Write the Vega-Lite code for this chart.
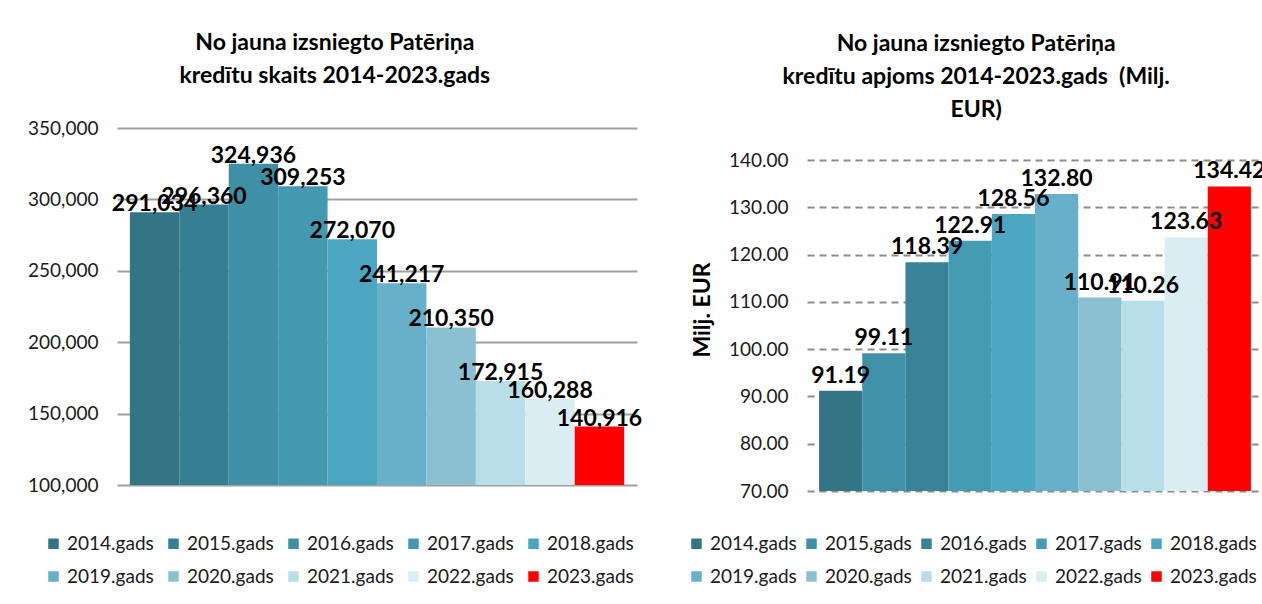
{
  "$schema": "https://vega.github.io/schema/vega-lite/v6.json",
  "padding": {"left": 27, "top": 32, "right": 0, "bottom": 0},
  "spacing": 44,
  "background": "white",
  "config": {
    "font": "Lato",
    "view": {"stroke": null},
    "legend": {"padding": 0}
  },
  "datasets": {
    "kredits": [
      {"gads": "2014.gads", "skaits": 291034, "apjoms": 91.19},
      {"gads": "2015.gads", "skaits": 296360, "apjoms": 99.11},
      {"gads": "2016.gads", "skaits": 324936, "apjoms": 118.39},
      {"gads": "2017.gads", "skaits": 309253, "apjoms": 122.91},
      {"gads": "2018.gads", "skaits": 272070, "apjoms": 128.56},
      {"gads": "2019.gads", "skaits": 241217, "apjoms": 132.80},
      {"gads": "2020.gads", "skaits": 210350, "apjoms": 110.91},
      {"gads": "2021.gads", "skaits": 172915, "apjoms": 110.26},
      {"gads": "2022.gads", "skaits": 160288, "apjoms": 123.63},
      {"gads": "2023.gads", "skaits": 140916, "apjoms": 134.42}
    ]
  },
  "resolve": {"scale": {"color": "independent"}},
  "hconcat": [
    {
      "width": 520,
      "height": 357,
      "data": {"name": "kredits"},
      "title": {
        "text": ["No jauna izsniegto Patēriņa", "kredītu skaits 2014-2023.gads"],
        "fontSize": 23, "fontWeight": "bold", "lineHeight": 33, "offset": 31,
        "anchor": "middle", "frame": "bounds", "color": "#000000"
      },
      "encoding": {
        "x": {"field": "gads", "type": "nominal", "axis": null,
              "scale": {"paddingInner": 0, "paddingOuter": 0.26}},
        "y": {"field": "skaits", "type": "quantitative",
              "scale": {"domain": [100000, 350000], "zero": false, "nice": false},
              "axis": {"title": null, "values": [100000, 150000, 200000, 250000, 300000, 350000],
                       "format": ",.0f", "grid": true, "gridColor": "#a0a0a0", "gridWidth": 2,
                       "domain": false, "ticks": false, "tickSize": 0, "labelPadding": 19,
                       "labelFontSize": 19, "labelColor": "#1a1a1a"}}
      },
      "layer": [
        {
          "mark": {"type": "bar"},
          "encoding": {
            "y2": {"datum": 100000},
            "color": {"field": "gads", "type": "nominal",
                      "scale": {"range": ["#337585", "#367f92", "#3f8fa6", "#4499b1", "#4aa6c1", "#66b0c9", "#8ac0d1", "#b8dee8", "#daedf3", "#ff0000"]},
                      "legend": {"title": null, "orient": "none", "legendX": -73, "legendY": 406,
                                 "direction": "horizontal", "columns": 5, "columnPadding": 10, "rowPadding": 13,
                                 "symbolType": "square", "symbolSize": 110, "symbolStrokeWidth": 0,
                                 "labelFontSize": 19, "labelColor": "#1a1a1a", "labelOffset": 4}}
          }
        },
        {
          "mark": {"type": "text", "fontSize": 23, "fontWeight": "bold", "baseline": "bottom", "dy": 4, "color": "#000000"},
          "encoding": {"text": {"field": "skaits", "type": "quantitative", "format": ",.0f"}}
        }
      ]
    },
    {
      "width": 456,
      "height": 363,
      "data": {"name": "kredits"},
      "title": {
        "text": ["No jauna izsniegto Patēriņa", "kredītu apjoms 2014-2023.gads \u00a0(Milj.", "EUR)"],
        "fontSize": 23, "fontWeight": "bold", "lineHeight": 33, "offset": 6,
        "anchor": "middle", "frame": "bounds", "color": "#000000"
      },
      "encoding": {
        "x": {"field": "gads", "type": "nominal", "axis": null,
              "scale": {"paddingInner": 0, "paddingOuter": 0.28}},
        "y": {"field": "apjoms", "type": "quantitative",
              "scale": {"domain": [70, 146.77], "zero": false, "nice": false},
              "axis": {"title": "Milj. EUR", "titleFontSize": 23, "titleFontWeight": "bold", "titleColor": "#000000",
                       "titlePadding": 14,
                       "values": [70, 80, 90, 100, 110, 120, 130, 140],
                       "format": ".2f", "grid": true, "gridColor": "#8c8c8c", "gridWidth": 2, "gridDash": [7, 5],
                       "domain": false, "ticks": false, "tickSize": 0, "labelPadding": 19,
                       "labelFontSize": 19, "labelColor": "#1a1a1a"}}
      },
      "layer": [
        {
          "mark": {"type": "bar"},
          "encoding": {
            "y2": {"datum": 70},
            "color": {"field": "gads", "type": "nominal",
                      "scale": {"range": ["#337585", "#4090a8", "#388396", "#449bb2", "#4aa6c1", "#66b0c9", "#8ac0d1", "#b8dee8", "#daedf3", "#ff0000"]},
                      "legend": {"title": null, "orient": "none", "legendX": -120, "legendY": 406,
                                 "direction": "horizontal", "columns": 5, "columnPadding": 5, "rowPadding": 13,
                                 "symbolType": "square", "symbolSize": 110, "symbolStrokeWidth": 0,
                                 "labelFontSize": 19, "labelColor": "#1a1a1a", "labelOffset": 4}}
          }
        },
        {
          "mark": {"type": "text", "fontSize": 23, "fontWeight": "bold", "baseline": "bottom", "dy": -3, "color": "#000000"},
          "encoding": {"text": {"field": "apjoms", "type": "quantitative", "format": ".2f"}}
        }
      ]
    }
  ]
}
